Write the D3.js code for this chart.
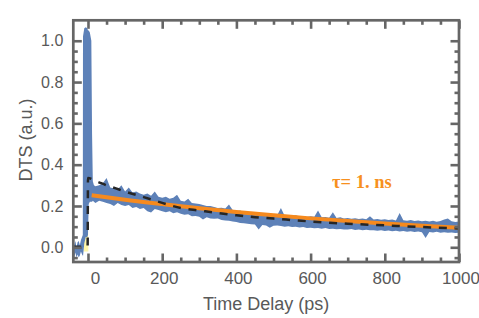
<!DOCTYPE html>
<html><head><meta charset="utf-8">
<script src="https://cdn.jsdelivr.net/npm/d3@7"></script>
<style>html,body{margin:0;padding:0;background:#fff;}svg{display:block;}</style>
</head><body><svg id="c" width="479" height="318"></svg>
<script>
// ---- data ----
const timePs = [-40,-37,-34,-31,-28,-25,-22,-19,-16,-14,-13.5,-10,-6,-2,0,2,5,9,11,13,16,
  20,30,40,50,60,70,80,90,100,110,120,130,140,150,160,170,180,190,200,210,220,230,240,250,260,270,280,290,
  300,310,320,330,340,350,360,370,380,390,400,410,420,430,440,450,460,470,480,490,
  500,510,520,530,540,550,560,570,580,590,600,610,620,630,640,650,660,670,680,690,
  700,710,720,730,740,750,760,770,780,790,800,810,820,830,840,850,860,870,880,890,
  900,910,920,930,940,950,960,970,980,990,1000];
const bandHi = [0.02,0.01,0.03,0.0,0.025,0.03,0.01,0.035,0.05,0.06,1.02,1.06,1.065,1.06,1.05,1.05,1.04,1.0,0.55,0.32,0.30,
  0.295,0.30,0.31,0.335,0.29,0.285,0.28,0.30,0.27,0.29,0.265,0.27,0.26,0.255,0.26,0.25,0.27,0.245,0.24,0.245,0.235,0.24,0.255,0.225,0.222,0.235,0.215,0.212,
  0.21,0.205,0.20,0.20,0.195,0.19,0.192,0.188,0.207,0.18,0.175,0.178,0.170,0.172,0.166,0.168,0.162,0.165,0.160,0.163,
  0.158,0.155,0.19,0.153,0.156,0.15,0.155,0.149,0.152,0.147,0.15,0.148,0.178,0.145,0.147,0.143,0.17,0.142,0.145,0.14,
  0.142,0.138,0.141,0.137,0.14,0.136,0.15,0.135,0.137,0.133,0.136,0.132,0.135,0.13,0.166,0.131,0.128,0.132,0.127,0.13,
  0.126,0.128,0.125,0.129,0.124,0.127,0.135,0.14,0.126,0.122,0.125];
const bandLo = [-0.03,-0.05,-0.025,-0.05,-0.035,-0.05,-0.04,-0.02,-0.035,-0.04,-0.045,0.02,0.05,0.05,0.06,0.21,0.22,0.22,0.22,0.225,0.22,
  0.215,0.225,0.22,0.215,0.21,0.20,0.215,0.205,0.20,0.205,0.19,0.195,0.185,0.19,0.175,0.168,0.185,0.18,0.175,0.17,0.175,0.165,0.17,0.162,0.158,0.16,0.15,0.152,
  0.148,0.135,0.145,0.14,0.138,0.14,0.132,0.13,0.128,0.125,0.122,0.118,0.117,0.114,0.112,0.11,0.086,0.108,0.106,0.095,
  0.104,0.106,0.103,0.10,0.102,0.098,0.10,0.096,0.098,0.094,0.095,0.092,0.094,0.09,0.093,0.088,0.09,0.087,0.089,0.086,
  0.086,0.088,0.084,0.086,0.083,0.085,0.082,0.083,0.08,0.083,0.079,0.081,0.078,0.08,0.077,0.079,0.075,0.078,0.074,0.077,
  0.073,0.045,0.074,0.072,0.075,0.071,0.073,0.07,0.072,0.069,0.07];
const irfT  = [-12,-10,-6,-2,0,1];
const irfHi = [0.0,0.05,0.08,0.1,0.1,0.0];
const irfLo = [-0.02,-0.02,-0.02,-0.02,-0.02,-0.02];
const modelT = [-40,-1,0,25,50,75,100,150,200,250,300,350,400,450,500,600,700,800,900,1000];
const modelV = [0.003,0.003,0.335,0.318,0.30,0.285,0.27,0.243,0.215,0.19,0.178,0.166,0.155,0.146,0.139,0.125,0.114,0.106,0.098,0.091];
const fitT = [10,100,200,300,400,500,600,700,800,900,1000];
const fitV = [0.252,0.230,0.209,0.189,0.171,0.155,0.140,0.127,0.115,0.104,0.095];
const xMajor = [0,200,400,600,800,1000];
const xMinor = [50,100,150,250,300,350,450,500,550,650,700,750,850,900,950];
const yMajor = [0,0.2,0.4,0.6,0.8,1.0];
const yMinor = [-0.05,0.05,0.1,0.15,0.25,0.3,0.35,0.45,0.5,0.55,0.65,0.7,0.75,0.85,0.9,0.95];
const xTitle = "Time Delay (ps)";
const yTitle = "DTS (a.u.)";
const fitLabel = "τ= 1. ns";

// ---- layout ----
const L = 73.3, R = 459, T = 20.3, B = 262;
const svg = d3.select("#c");
const x = d3.scaleLinear().domain([-39.6, 1000]).range([L, R]);
const y = d3.scaleLinear().domain([-0.0712, 1.099]).range([B, T]);
const gray = "#666";
const txt = "#595959";
const sans = "'Liberation Sans', Arial, sans-serif";

svg.append("defs").append("clipPath").attr("id","clip")
  .append("rect").attr("x",L).attr("y",T).attr("width",R-L).attr("height",B-T);
const plot = svg.append("g").attr("clip-path","url(#clip)");

// IRF (yellow)
plot.append("path")
  .datum(irfT.map((t,i)=>({t,hi:irfHi[i],lo:irfLo[i]})))
  .attr("d", d3.area().x(d=>x(d.t)).y0(d=>y(d.lo)).y1(d=>y(d.hi)))
  .attr("fill","#fff6a8");

// data band
plot.append("path")
  .datum(timePs.map((t,i)=>({t,hi:bandHi[i],lo:bandLo[i]})))
  .attr("d", d3.area().x(d=>x(d.t)).y0(d=>y(d.lo)).y1(d=>y(d.hi)))
  .attr("fill","#5D81B8");

// fit line (orange)
plot.append("path")
  .datum(fitT.map((t,i)=>({t,v:fitV[i]})))
  .attr("d", d3.line().x(d=>x(d.t)).y(d=>y(d.v)).curve(d3.curveMonotoneX))
  .attr("fill","none").attr("stroke","#F68A1E").attr("stroke-width",4);

// model (dashed)
plot.append("path")
  .datum(modelT.map((t,i)=>({t,v:modelV[i]})))
  .attr("d", d3.line().x(d=>x(d.t)).y(d=>y(d.v)).curve(d3.curveMonotoneX))
  .attr("fill","none").attr("stroke","#262626").attr("stroke-width",2.5)
  .attr("stroke-dasharray","8,7.7");

// axes
function styleAxis(size){
  return g => {
    g.select(".domain").remove();
    g.selectAll(".tick line").attr("stroke",gray).attr("stroke-width",2.6);
    g.selectAll(".tick text").attr("fill",txt).style("font-family",sans).style("font-size",size+"px");
  };
}
const fmt = d3.format(".1f");
// bottom
svg.append("g").attr("transform",`translate(0,${B})`)
  .call(d3.axisBottom(x).tickValues(xMajor).tickSize(-8.5).tickPadding(9.5).tickFormat(d3.format("d")))
  .call(styleAxis(17))
  .call(g=>g.selectAll(".tick text").attr("dx",d=>d===0?7:1.5));
svg.append("g").attr("transform",`translate(0,${B})`)
  .call(d3.axisBottom(x).tickValues(xMinor).tickSize(-4.5).tickFormat(""))
  .call(styleAxis(16));
// top
svg.append("g").attr("transform",`translate(0,${T})`)
  .call(d3.axisTop(x).tickValues(xMajor).tickSize(-8.5).tickFormat(""))
  .call(styleAxis(16));
svg.append("g").attr("transform",`translate(0,${T})`)
  .call(d3.axisTop(x).tickValues(xMinor).tickSize(-4.5).tickFormat(""))
  .call(styleAxis(16));
// left
svg.append("g").attr("transform",`translate(${L},0)`)
  .call(d3.axisLeft(y).tickValues(yMajor).tickSize(-8.5).tickPadding(10).tickFormat(fmt))
  .call(styleAxis(16));
svg.append("g").attr("transform",`translate(${L},0)`)
  .call(d3.axisLeft(y).tickValues(yMinor).tickSize(-4.5).tickFormat(""))
  .call(styleAxis(16));
// right
svg.append("g").attr("transform",`translate(${R},0)`)
  .call(d3.axisRight(y).tickValues(yMajor).tickSize(-8.5).tickFormat(""))
  .call(styleAxis(16));
svg.append("g").attr("transform",`translate(${R},0)`)
  .call(d3.axisRight(y).tickValues(yMinor).tickSize(-4.5).tickFormat(""))
  .call(styleAxis(16));

// frame
svg.append("rect").attr("x",L).attr("y",T).attr("width",R-L).attr("height",B-T)
  .attr("fill","none").attr("stroke",gray).attr("stroke-width",2.7);

// titles
svg.append("text").attr("x",(L+R)/2).attr("y",309.5).attr("text-anchor","middle")
  .attr("fill",txt).style("font-family",sans).style("font-size","18px")
  .text(xTitle);
svg.append("text").attr("transform",`translate(26,140) rotate(-90)`).attr("text-anchor","middle")
  .attr("dominant-baseline","central")
  .attr("fill",txt).style("font-family",sans).style("font-size","18px")
  .text(yTitle);

// fit label
svg.append("text").attr("x",332).attr("y",188)
  .attr("fill","#F7901E").style("font-family","'Liberation Serif', 'Times New Roman', serif")
  .style("font-weight","bold").style("font-size","18.5px")
  .text(fitLabel);
</script></body></html>
